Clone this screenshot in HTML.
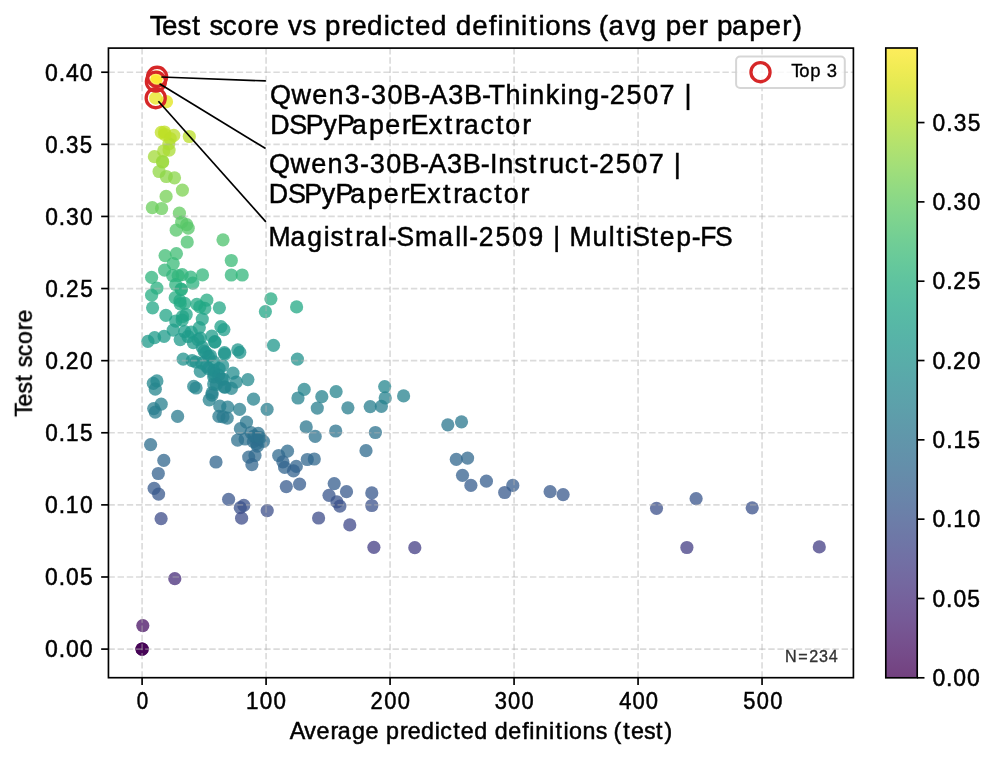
<!DOCTYPE html><html><head><meta charset="utf-8"><title>Test score vs predicted definitions</title><style>
html,body{margin:0;padding:0;background:#fff;}svg{display:block;}text{font-family:"Liberation Sans",sans-serif;will-change:transform;font-kerning:none;font-variant-ligatures:none;}
</style></head><body>
<svg width="996" height="759" viewBox="0 0 996 759">
<rect width="996" height="759" fill="#ffffff"/>
<defs><linearGradient id="cb" x1="0" y1="1" x2="0" y2="0">
<stop offset="0.0000" stop-color="#440154"/>
<stop offset="0.0312" stop-color="#470d60"/>
<stop offset="0.0625" stop-color="#48186a"/>
<stop offset="0.0938" stop-color="#482374"/>
<stop offset="0.1250" stop-color="#472d7b"/>
<stop offset="0.1562" stop-color="#453781"/>
<stop offset="0.1875" stop-color="#424086"/>
<stop offset="0.2188" stop-color="#3e4989"/>
<stop offset="0.2500" stop-color="#3b528b"/>
<stop offset="0.2812" stop-color="#375b8d"/>
<stop offset="0.3125" stop-color="#33638d"/>
<stop offset="0.3438" stop-color="#2f6b8e"/>
<stop offset="0.3750" stop-color="#2c728e"/>
<stop offset="0.4062" stop-color="#297a8e"/>
<stop offset="0.4375" stop-color="#26828e"/>
<stop offset="0.4688" stop-color="#23898e"/>
<stop offset="0.5000" stop-color="#21918c"/>
<stop offset="0.5312" stop-color="#1f988b"/>
<stop offset="0.5625" stop-color="#1fa088"/>
<stop offset="0.5938" stop-color="#22a785"/>
<stop offset="0.6250" stop-color="#28ae80"/>
<stop offset="0.6562" stop-color="#32b67a"/>
<stop offset="0.6875" stop-color="#3fbc73"/>
<stop offset="0.7188" stop-color="#4ec36b"/>
<stop offset="0.7500" stop-color="#5ec962"/>
<stop offset="0.7812" stop-color="#70cf57"/>
<stop offset="0.8125" stop-color="#84d44b"/>
<stop offset="0.8438" stop-color="#98d83e"/>
<stop offset="0.8750" stop-color="#addc30"/>
<stop offset="0.9062" stop-color="#c2df23"/>
<stop offset="0.9375" stop-color="#d8e219"/>
<stop offset="0.9688" stop-color="#ece51b"/>
<stop offset="1.0000" stop-color="#fde725"/>
</linearGradient><clipPath id="axclip"><rect x="108.45" y="48.10" width="744.95" height="629.60"/></clipPath></defs>
<g clip-path="url(#axclip)">
<circle cx="166.5" cy="101.7" r="6.6" fill="#e2e418" fill-opacity="0.75"/>
<circle cx="161.3" cy="132.4" r="6.6" fill="#c0df25" fill-opacity="0.75"/>
<circle cx="164.5" cy="132.0" r="6.6" fill="#c0df25" fill-opacity="0.75"/>
<circle cx="173.8" cy="135.3" r="6.6" fill="#bade28" fill-opacity="0.75"/>
<circle cx="170.2" cy="138.5" r="6.6" fill="#b8de29" fill-opacity="0.75"/>
<circle cx="189.3" cy="136.5" r="6.6" fill="#bade28" fill-opacity="0.75"/>
<circle cx="168.8" cy="143.8" r="6.6" fill="#b2dd2d" fill-opacity="0.75"/>
<circle cx="163.7" cy="150.9" r="6.6" fill="#a8db34" fill-opacity="0.75"/>
<circle cx="169.1" cy="150.1" r="6.6" fill="#aadc32" fill-opacity="0.75"/>
<circle cx="154.4" cy="156.7" r="6.6" fill="#a2da37" fill-opacity="0.75"/>
<circle cx="162.6" cy="161.5" r="6.6" fill="#9dd93b" fill-opacity="0.75"/>
<circle cx="159.1" cy="171.5" r="6.6" fill="#90d743" fill-opacity="0.75"/>
<circle cx="166.3" cy="176.5" r="6.6" fill="#8bd646" fill-opacity="0.75"/>
<circle cx="174.5" cy="177.8" r="6.6" fill="#89d548" fill-opacity="0.75"/>
<circle cx="182.4" cy="190.1" r="6.6" fill="#7cd250" fill-opacity="0.75"/>
<circle cx="166.1" cy="196.4" r="6.6" fill="#75d054" fill-opacity="0.75"/>
<circle cx="152.3" cy="207.7" r="6.6" fill="#69cd5b" fill-opacity="0.75"/>
<circle cx="161.6" cy="208.5" r="6.6" fill="#69cd5b" fill-opacity="0.75"/>
<circle cx="179.4" cy="213.2" r="6.6" fill="#63cb5f" fill-opacity="0.75"/>
<circle cx="181.7" cy="222.2" r="6.6" fill="#5ac864" fill-opacity="0.75"/>
<circle cx="186.7" cy="224.7" r="6.6" fill="#58c765" fill-opacity="0.75"/>
<circle cx="188.2" cy="228.2" r="6.6" fill="#56c667" fill-opacity="0.75"/>
<circle cx="176.2" cy="230.2" r="6.6" fill="#54c568" fill-opacity="0.75"/>
<circle cx="187.2" cy="242.0" r="6.6" fill="#4ac16d" fill-opacity="0.75"/>
<circle cx="223.0" cy="239.8" r="6.6" fill="#4cc26c" fill-opacity="0.75"/>
<circle cx="165.1" cy="255.6" r="6.6" fill="#3fbc73" fill-opacity="0.75"/>
<circle cx="176.4" cy="253.6" r="6.6" fill="#3fbc73" fill-opacity="0.75"/>
<circle cx="173.2" cy="263.6" r="6.6" fill="#38b977" fill-opacity="0.75"/>
<circle cx="164.6" cy="270.1" r="6.6" fill="#34b679" fill-opacity="0.75"/>
<circle cx="151.6" cy="277.3" r="6.6" fill="#2fb47c" fill-opacity="0.75"/>
<circle cx="172.7" cy="275.6" r="6.6" fill="#31b57b" fill-opacity="0.75"/>
<circle cx="178.2" cy="275.6" r="6.6" fill="#31b57b" fill-opacity="0.75"/>
<circle cx="182.2" cy="274.6" r="6.6" fill="#31b57b" fill-opacity="0.75"/>
<circle cx="190.7" cy="277.1" r="6.6" fill="#2fb47c" fill-opacity="0.75"/>
<circle cx="202.5" cy="274.9" r="6.6" fill="#31b57b" fill-opacity="0.75"/>
<circle cx="231.3" cy="260.5" r="6.6" fill="#3aba76" fill-opacity="0.75"/>
<circle cx="231.3" cy="275.0" r="6.6" fill="#31b57b" fill-opacity="0.75"/>
<circle cx="242.2" cy="275.0" r="6.6" fill="#31b57b" fill-opacity="0.75"/>
<circle cx="156.9" cy="288.2" r="6.6" fill="#29af7f" fill-opacity="0.75"/>
<circle cx="151.6" cy="295.2" r="6.6" fill="#26ad81" fill-opacity="0.75"/>
<circle cx="175.7" cy="284.7" r="6.6" fill="#2cb17e" fill-opacity="0.75"/>
<circle cx="181.2" cy="289.2" r="6.6" fill="#28ae80" fill-opacity="0.75"/>
<circle cx="192.8" cy="283.2" r="6.6" fill="#2cb17e" fill-opacity="0.75"/>
<circle cx="175.2" cy="297.7" r="6.6" fill="#25ac82" fill-opacity="0.75"/>
<circle cx="184.7" cy="303.3" r="6.6" fill="#23a983" fill-opacity="0.75"/>
<circle cx="196.8" cy="304.3" r="6.6" fill="#23a983" fill-opacity="0.75"/>
<circle cx="206.8" cy="300.2" r="6.6" fill="#25ab82" fill-opacity="0.75"/>
<circle cx="204.8" cy="308.3" r="6.6" fill="#22a785" fill-opacity="0.75"/>
<circle cx="219.4" cy="307.8" r="6.6" fill="#22a785" fill-opacity="0.75"/>
<circle cx="152.6" cy="307.8" r="6.6" fill="#22a785" fill-opacity="0.75"/>
<circle cx="165.9" cy="315.4" r="6.6" fill="#20a486" fill-opacity="0.75"/>
<circle cx="186.2" cy="314.5" r="6.6" fill="#20a486" fill-opacity="0.75"/>
<circle cx="175.7" cy="321.1" r="6.6" fill="#1fa187" fill-opacity="0.75"/>
<circle cx="182.2" cy="320.1" r="6.6" fill="#1fa287" fill-opacity="0.75"/>
<circle cx="202.3" cy="319.1" r="6.6" fill="#1fa287" fill-opacity="0.75"/>
<circle cx="199.3" cy="327.6" r="6.6" fill="#1f9f88" fill-opacity="0.75"/>
<circle cx="220.9" cy="326.6" r="6.6" fill="#1fa088" fill-opacity="0.75"/>
<circle cx="223.9" cy="329.6" r="6.6" fill="#1f9e89" fill-opacity="0.75"/>
<circle cx="173.2" cy="330.1" r="6.6" fill="#1f9e89" fill-opacity="0.75"/>
<circle cx="184.7" cy="331.6" r="6.6" fill="#1f9e89" fill-opacity="0.75"/>
<circle cx="191.2" cy="332.1" r="6.6" fill="#1e9d89" fill-opacity="0.75"/>
<circle cx="154.6" cy="337.6" r="6.6" fill="#1e9b8a" fill-opacity="0.75"/>
<circle cx="164.1" cy="336.3" r="6.6" fill="#1e9b8a" fill-opacity="0.75"/>
<circle cx="147.9" cy="341.3" r="6.6" fill="#1f998a" fill-opacity="0.75"/>
<circle cx="180.2" cy="339.6" r="6.6" fill="#1f9a8a" fill-opacity="0.75"/>
<circle cx="193.3" cy="342.6" r="6.6" fill="#1f998a" fill-opacity="0.75"/>
<circle cx="200.3" cy="338.1" r="6.6" fill="#1e9b8a" fill-opacity="0.75"/>
<circle cx="211.8" cy="336.1" r="6.6" fill="#1e9c89" fill-opacity="0.75"/>
<circle cx="214.8" cy="342.1" r="6.6" fill="#1f998a" fill-opacity="0.75"/>
<circle cx="202.3" cy="347.2" r="6.6" fill="#1f978b" fill-opacity="0.75"/>
<circle cx="224.4" cy="352.7" r="6.6" fill="#1f948c" fill-opacity="0.75"/>
<circle cx="183.2" cy="359.2" r="6.6" fill="#20928c" fill-opacity="0.75"/>
<circle cx="192.2" cy="360.7" r="6.6" fill="#20928c" fill-opacity="0.75"/>
<circle cx="200.3" cy="371.3" r="6.6" fill="#228d8d" fill-opacity="0.75"/>
<circle cx="237.8" cy="349.9" r="6.6" fill="#1f958b" fill-opacity="0.75"/>
<circle cx="239.8" cy="352.3" r="6.6" fill="#1f948c" fill-opacity="0.75"/>
<circle cx="222.6" cy="365.5" r="6.6" fill="#218f8d" fill-opacity="0.75"/>
<circle cx="233.0" cy="373.2" r="6.6" fill="#228c8d" fill-opacity="0.75"/>
<circle cx="247.9" cy="379.6" r="6.6" fill="#23898e" fill-opacity="0.75"/>
<circle cx="236.2" cy="382.0" r="6.6" fill="#23888e" fill-opacity="0.75"/>
<circle cx="193.7" cy="386.4" r="6.6" fill="#24868e" fill-opacity="0.75"/>
<circle cx="196.1" cy="388.0" r="6.6" fill="#25858e" fill-opacity="0.75"/>
<circle cx="213.7" cy="384.0" r="6.6" fill="#24878e" fill-opacity="0.75"/>
<circle cx="225.0" cy="387.2" r="6.6" fill="#24868e" fill-opacity="0.75"/>
<circle cx="231.4" cy="388.4" r="6.6" fill="#25858e" fill-opacity="0.75"/>
<circle cx="212.1" cy="392.8" r="6.6" fill="#25838e" fill-opacity="0.75"/>
<circle cx="204.1" cy="351.1" r="6.6" fill="#1f958b" fill-opacity="0.75"/>
<circle cx="210.5" cy="355.9" r="6.6" fill="#20938c" fill-opacity="0.75"/>
<circle cx="206.5" cy="366.3" r="6.6" fill="#218f8d" fill-opacity="0.75"/>
<circle cx="213.7" cy="370.3" r="6.6" fill="#228d8d" fill-opacity="0.75"/>
<circle cx="218.6" cy="375.2" r="6.6" fill="#228b8d" fill-opacity="0.75"/>
<circle cx="213.7" cy="376.8" r="6.6" fill="#238a8d" fill-opacity="0.75"/>
<circle cx="223.4" cy="379.2" r="6.6" fill="#23898e" fill-opacity="0.75"/>
<circle cx="270.9" cy="298.8" r="6.6" fill="#25ab82" fill-opacity="0.75"/>
<circle cx="265.4" cy="311.6" r="6.6" fill="#21a585" fill-opacity="0.75"/>
<circle cx="296.6" cy="306.9" r="6.6" fill="#22a884" fill-opacity="0.75"/>
<circle cx="273.5" cy="345.3" r="6.6" fill="#1f978b" fill-opacity="0.75"/>
<circle cx="297.4" cy="359.1" r="6.6" fill="#20928c" fill-opacity="0.75"/>
<circle cx="253.5" cy="399.2" r="6.6" fill="#26818e" fill-opacity="0.75"/>
<circle cx="267.1" cy="409.3" r="6.6" fill="#287d8e" fill-opacity="0.75"/>
<circle cx="304.2" cy="389.4" r="6.6" fill="#25858e" fill-opacity="0.75"/>
<circle cx="298.0" cy="398.0" r="6.6" fill="#26828e" fill-opacity="0.75"/>
<circle cx="321.8" cy="396.7" r="6.6" fill="#26828e" fill-opacity="0.75"/>
<circle cx="336.1" cy="391.7" r="6.6" fill="#25848e" fill-opacity="0.75"/>
<circle cx="317.3" cy="408.1" r="6.6" fill="#287d8e" fill-opacity="0.75"/>
<circle cx="347.9" cy="407.8" r="6.6" fill="#287d8e" fill-opacity="0.75"/>
<circle cx="370.2" cy="406.6" r="6.6" fill="#277e8e" fill-opacity="0.75"/>
<circle cx="381.4" cy="406.3" r="6.6" fill="#277e8e" fill-opacity="0.75"/>
<circle cx="384.7" cy="386.6" r="6.6" fill="#24868e" fill-opacity="0.75"/>
<circle cx="385.2" cy="397.9" r="6.6" fill="#26828e" fill-opacity="0.75"/>
<circle cx="403.6" cy="395.9" r="6.6" fill="#26828e" fill-opacity="0.75"/>
<circle cx="335.7" cy="431.0" r="6.6" fill="#2c738e" fill-opacity="0.75"/>
<circle cx="375.4" cy="432.5" r="6.6" fill="#2c728e" fill-opacity="0.75"/>
<circle cx="447.8" cy="424.8" r="6.6" fill="#2a768e" fill-opacity="0.75"/>
<circle cx="461.5" cy="421.8" r="6.6" fill="#2a778e" fill-opacity="0.75"/>
<circle cx="456.3" cy="459.3" r="6.6" fill="#31678e" fill-opacity="0.75"/>
<circle cx="467.6" cy="458.1" r="6.6" fill="#31688e" fill-opacity="0.75"/>
<circle cx="462.5" cy="475.3" r="6.6" fill="#34608d" fill-opacity="0.75"/>
<circle cx="470.9" cy="485.4" r="6.6" fill="#365c8d" fill-opacity="0.75"/>
<circle cx="486.4" cy="481.2" r="6.6" fill="#355e8d" fill-opacity="0.75"/>
<circle cx="504.7" cy="492.5" r="6.6" fill="#38598c" fill-opacity="0.75"/>
<circle cx="512.8" cy="485.4" r="6.6" fill="#365c8d" fill-opacity="0.75"/>
<circle cx="550.1" cy="491.7" r="6.6" fill="#38598c" fill-opacity="0.75"/>
<circle cx="563.1" cy="494.6" r="6.6" fill="#38588c" fill-opacity="0.75"/>
<circle cx="656.5" cy="508.3" r="6.6" fill="#3c508b" fill-opacity="0.75"/>
<circle cx="696.1" cy="498.6" r="6.6" fill="#39558c" fill-opacity="0.75"/>
<circle cx="752.2" cy="507.8" r="6.6" fill="#3b518b" fill-opacity="0.75"/>
<circle cx="686.9" cy="547.5" r="6.6" fill="#433d84" fill-opacity="0.75"/>
<circle cx="819.3" cy="546.9" r="6.6" fill="#433d84" fill-opacity="0.75"/>
<circle cx="366.0" cy="450.7" r="6.6" fill="#2f6b8e" fill-opacity="0.75"/>
<circle cx="334.2" cy="483.6" r="6.6" fill="#365d8d" fill-opacity="0.75"/>
<circle cx="346.5" cy="491.7" r="6.6" fill="#38598c" fill-opacity="0.75"/>
<circle cx="329.0" cy="495.3" r="6.6" fill="#39568c" fill-opacity="0.75"/>
<circle cx="336.9" cy="501.9" r="6.6" fill="#3a538b" fill-opacity="0.75"/>
<circle cx="339.9" cy="506.1" r="6.6" fill="#3b518b" fill-opacity="0.75"/>
<circle cx="371.8" cy="492.9" r="6.6" fill="#38588c" fill-opacity="0.75"/>
<circle cx="371.8" cy="505.5" r="6.6" fill="#3b528b" fill-opacity="0.75"/>
<circle cx="246.5" cy="422.1" r="6.6" fill="#2a778e" fill-opacity="0.75"/>
<circle cx="306.2" cy="426.9" r="6.6" fill="#2b758e" fill-opacity="0.75"/>
<circle cx="315.2" cy="436.4" r="6.6" fill="#2c718e" fill-opacity="0.75"/>
<circle cx="287.5" cy="451.2" r="6.6" fill="#2f6b8e" fill-opacity="0.75"/>
<circle cx="278.7" cy="455.5" r="6.6" fill="#30698e" fill-opacity="0.75"/>
<circle cx="282.9" cy="461.8" r="6.6" fill="#31668e" fill-opacity="0.75"/>
<circle cx="284.6" cy="467.4" r="6.6" fill="#32648e" fill-opacity="0.75"/>
<circle cx="296.3" cy="466.4" r="6.6" fill="#32648e" fill-opacity="0.75"/>
<circle cx="307.3" cy="459.5" r="6.6" fill="#31678e" fill-opacity="0.75"/>
<circle cx="314.3" cy="459.0" r="6.6" fill="#31688e" fill-opacity="0.75"/>
<circle cx="177.6" cy="416.4" r="6.6" fill="#297a8e" fill-opacity="0.75"/>
<circle cx="212.0" cy="395.1" r="6.6" fill="#26828e" fill-opacity="0.75"/>
<circle cx="209.2" cy="399.8" r="6.6" fill="#26818e" fill-opacity="0.75"/>
<circle cx="219.8" cy="406.2" r="6.6" fill="#277e8e" fill-opacity="0.75"/>
<circle cx="227.7" cy="407.1" r="6.6" fill="#277e8e" fill-opacity="0.75"/>
<circle cx="239.6" cy="409.4" r="6.6" fill="#287d8e" fill-opacity="0.75"/>
<circle cx="218.9" cy="416.4" r="6.6" fill="#297a8e" fill-opacity="0.75"/>
<circle cx="223.0" cy="416.8" r="6.6" fill="#29798e" fill-opacity="0.75"/>
<circle cx="227.2" cy="418.2" r="6.6" fill="#29798e" fill-opacity="0.75"/>
<circle cx="240.4" cy="428.7" r="6.6" fill="#2b748e" fill-opacity="0.75"/>
<circle cx="237.6" cy="440.1" r="6.6" fill="#2d708e" fill-opacity="0.75"/>
<circle cx="245.1" cy="439.0" r="6.6" fill="#2d708e" fill-opacity="0.75"/>
<circle cx="251.1" cy="432.6" r="6.6" fill="#2c728e" fill-opacity="0.75"/>
<circle cx="258.2" cy="433.4" r="6.6" fill="#2c728e" fill-opacity="0.75"/>
<circle cx="257.4" cy="439.7" r="6.6" fill="#2d708e" fill-opacity="0.75"/>
<circle cx="263.5" cy="441.3" r="6.6" fill="#2e6f8e" fill-opacity="0.75"/>
<circle cx="253.4" cy="441.7" r="6.6" fill="#2e6f8e" fill-opacity="0.75"/>
<circle cx="256.6" cy="443.7" r="6.6" fill="#2e6e8e" fill-opacity="0.75"/>
<circle cx="257.4" cy="446.1" r="6.6" fill="#2e6d8e" fill-opacity="0.75"/>
<circle cx="248.7" cy="457.1" r="6.6" fill="#31688e" fill-opacity="0.75"/>
<circle cx="255.0" cy="455.5" r="6.6" fill="#30698e" fill-opacity="0.75"/>
<circle cx="251.9" cy="464.6" r="6.6" fill="#32658e" fill-opacity="0.75"/>
<circle cx="156.9" cy="380.9" r="6.6" fill="#23888e" fill-opacity="0.75"/>
<circle cx="153.3" cy="383.3" r="6.6" fill="#24878e" fill-opacity="0.75"/>
<circle cx="155.3" cy="389.2" r="6.6" fill="#25858e" fill-opacity="0.75"/>
<circle cx="161.2" cy="404.2" r="6.6" fill="#277f8e" fill-opacity="0.75"/>
<circle cx="153.7" cy="408.6" r="6.6" fill="#287d8e" fill-opacity="0.75"/>
<circle cx="155.3" cy="412.1" r="6.6" fill="#287c8e" fill-opacity="0.75"/>
<circle cx="150.6" cy="444.6" r="6.6" fill="#2e6e8e" fill-opacity="0.75"/>
<circle cx="163.8" cy="460.4" r="6.6" fill="#31678e" fill-opacity="0.75"/>
<circle cx="216.0" cy="462.0" r="6.6" fill="#31668e" fill-opacity="0.75"/>
<circle cx="158.3" cy="473.5" r="6.6" fill="#34618d" fill-opacity="0.75"/>
<circle cx="154.1" cy="488.3" r="6.6" fill="#375a8c" fill-opacity="0.75"/>
<circle cx="158.6" cy="494.1" r="6.6" fill="#38588c" fill-opacity="0.75"/>
<circle cx="161.1" cy="518.7" r="6.6" fill="#3e4c8a" fill-opacity="0.75"/>
<circle cx="228.6" cy="499.3" r="6.6" fill="#39558c" fill-opacity="0.75"/>
<circle cx="243.8" cy="505.3" r="6.6" fill="#3b528b" fill-opacity="0.75"/>
<circle cx="240.3" cy="507.7" r="6.6" fill="#3b518b" fill-opacity="0.75"/>
<circle cx="241.6" cy="518.2" r="6.6" fill="#3e4c8a" fill-opacity="0.75"/>
<circle cx="267.2" cy="510.7" r="6.6" fill="#3c4f8a" fill-opacity="0.75"/>
<circle cx="286.3" cy="486.6" r="6.6" fill="#375b8d" fill-opacity="0.75"/>
<circle cx="299.6" cy="484.1" r="6.6" fill="#365c8d" fill-opacity="0.75"/>
<circle cx="318.6" cy="518.0" r="6.6" fill="#3e4c8a" fill-opacity="0.75"/>
<circle cx="349.8" cy="524.9" r="6.6" fill="#3f4889" fill-opacity="0.75"/>
<circle cx="373.9" cy="547.3" r="6.6" fill="#433d84" fill-opacity="0.75"/>
<circle cx="414.8" cy="547.7" r="6.6" fill="#433d84" fill-opacity="0.75"/>
<circle cx="174.8" cy="578.7" r="6.6" fill="#472c7a" fill-opacity="0.75"/>
<circle cx="142.8" cy="625.6" r="6.6" fill="#471063" fill-opacity="0.75"/>
<circle cx="142.1" cy="649.1" r="6.6" fill="#440154" fill-opacity="0.75"/>
<circle cx="142.1" cy="649.1" r="6.6" fill="#440154" fill-opacity="0.75"/>
<circle cx="142.1" cy="649.1" r="6.6" fill="#440154" fill-opacity="0.75"/>
<circle cx="181.4" cy="289.5" r="6.6" fill="#28ae80" fill-opacity="0.75"/>
<circle cx="179.9" cy="300.7" r="6.6" fill="#24aa83" fill-opacity="0.75"/>
<circle cx="180.2" cy="303.8" r="6.6" fill="#23a983" fill-opacity="0.75"/>
<circle cx="199.8" cy="306.8" r="6.6" fill="#22a884" fill-opacity="0.75"/>
<circle cx="198.0" cy="339.5" r="6.6" fill="#1f9a8a" fill-opacity="0.75"/>
<circle cx="205.9" cy="352.7" r="6.6" fill="#1f948c" fill-opacity="0.75"/>
<circle cx="208.5" cy="356.7" r="6.6" fill="#20928c" fill-opacity="0.75"/>
<circle cx="213.8" cy="361.9" r="6.6" fill="#21918c" fill-opacity="0.75"/>
<circle cx="219.1" cy="368.5" r="6.6" fill="#218e8d" fill-opacity="0.75"/>
<circle cx="213.8" cy="373.8" r="6.6" fill="#228c8d" fill-opacity="0.75"/>
<circle cx="221.7" cy="379.1" r="6.6" fill="#23898e" fill-opacity="0.75"/>
<circle cx="216.4" cy="384.3" r="6.6" fill="#24878e" fill-opacity="0.75"/>
<circle cx="224.3" cy="387.0" r="6.6" fill="#24868e" fill-opacity="0.75"/>
<circle cx="208.5" cy="368.5" r="6.6" fill="#218e8d" fill-opacity="0.75"/>
<circle cx="201.9" cy="363.2" r="6.6" fill="#21908d" fill-opacity="0.75"/>
<circle cx="224.8" cy="354.0" r="6.6" fill="#1f948c" fill-opacity="0.75"/>
<circle cx="196.0" cy="362.0" r="6.6" fill="#21918c" fill-opacity="0.75"/>
<circle cx="182.5" cy="316.5" r="6.6" fill="#20a386" fill-opacity="0.75"/>
<circle cx="254.0" cy="436.0" r="6.6" fill="#2c718e" fill-opacity="0.75"/>
<circle cx="260.0" cy="437.5" r="6.6" fill="#2d718e" fill-opacity="0.75"/>
<circle cx="293.5" cy="470.9" r="6.6" fill="#33628d" fill-opacity="0.75"/>
<circle cx="162.6" cy="162.0" r="6.6" fill="#9bd93c" fill-opacity="0.75"/>
<circle cx="214.9" cy="341.7" r="6.6" fill="#1f998a" fill-opacity="0.75"/>
<circle cx="188.0" cy="336.5" r="6.6" fill="#1e9b8a" fill-opacity="0.75"/>
<circle cx="164.9" cy="134.5" r="6.6" fill="#bddf26" fill-opacity="0.75"/>
<circle cx="155.7" cy="98.2" r="6.6" fill="#e7e419" fill-opacity="0.75"/>
<circle cx="155.9" cy="81.6" r="6.6" fill="#f8e621" fill-opacity="0.75"/>
<circle cx="157.1" cy="76.8" r="6.6" fill="#fde725" fill-opacity="0.75"/>
</g>
<g stroke="#b0b0b0" stroke-opacity="0.45" stroke-width="1.67" stroke-dasharray="6.398 2.766" fill="none">
<line x1="142.10" y1="677.7" x2="142.10" y2="48.1"/>
<line x1="266.09" y1="677.7" x2="266.09" y2="48.1"/>
<line x1="390.08" y1="677.7" x2="390.08" y2="48.1"/>
<line x1="514.07" y1="677.7" x2="514.07" y2="48.1"/>
<line x1="638.06" y1="677.7" x2="638.06" y2="48.1"/>
<line x1="762.05" y1="677.7" x2="762.05" y2="48.1"/>
<line x1="108.45" y1="649.10" x2="853.4" y2="649.10"/>
<line x1="108.45" y1="576.99" x2="853.4" y2="576.99"/>
<line x1="108.45" y1="504.88" x2="853.4" y2="504.88"/>
<line x1="108.45" y1="432.77" x2="853.4" y2="432.77"/>
<line x1="108.45" y1="360.66" x2="853.4" y2="360.66"/>
<line x1="108.45" y1="288.55" x2="853.4" y2="288.55"/>
<line x1="108.45" y1="216.44" x2="853.4" y2="216.44"/>
<line x1="108.45" y1="144.33" x2="853.4" y2="144.33"/>
<line x1="108.45" y1="72.22" x2="853.4" y2="72.22"/>
</g>
<g fill="none" stroke="#d62728" stroke-width="3.3">
<circle cx="157.1" cy="76.8" r="9.55"/>
<circle cx="155.9" cy="81.6" r="9.55"/>
<circle cx="155.7" cy="98.2" r="9.55"/>
</g>
<g stroke="#000" stroke-width="1.7" fill="none">
<line x1="265.85" y1="80.94" x2="161.3" y2="77.0"/>
<line x1="265.6" y1="148.5" x2="159.5" y2="83.8"/>
<line x1="265.9" y1="221.9" x2="158.4" y2="101.2"/>
</g>
<rect x="108.45" y="48.1" width="744.95" height="629.60" fill="none" stroke="#000" stroke-width="1.67"/>
<g stroke="#000" stroke-width="1.67">
<line x1="142.10" y1="677.7" x2="142.10" y2="685.00"/>
<line x1="266.09" y1="677.7" x2="266.09" y2="685.00"/>
<line x1="390.08" y1="677.7" x2="390.08" y2="685.00"/>
<line x1="514.07" y1="677.7" x2="514.07" y2="685.00"/>
<line x1="638.06" y1="677.7" x2="638.06" y2="685.00"/>
<line x1="762.05" y1="677.7" x2="762.05" y2="685.00"/>
<line x1="101.15" y1="649.10" x2="108.45" y2="649.10"/>
<line x1="101.15" y1="576.99" x2="108.45" y2="576.99"/>
<line x1="101.15" y1="504.88" x2="108.45" y2="504.88"/>
<line x1="101.15" y1="432.77" x2="108.45" y2="432.77"/>
<line x1="101.15" y1="360.66" x2="108.45" y2="360.66"/>
<line x1="101.15" y1="288.55" x2="108.45" y2="288.55"/>
<line x1="101.15" y1="216.44" x2="108.45" y2="216.44"/>
<line x1="101.15" y1="144.33" x2="108.45" y2="144.33"/>
<line x1="101.15" y1="72.22" x2="108.45" y2="72.22"/>
<line x1="917.2" y1="677.80" x2="924.50" y2="677.80"/>
<line x1="917.2" y1="598.48" x2="924.50" y2="598.48"/>
<line x1="917.2" y1="519.16" x2="924.50" y2="519.16"/>
<line x1="917.2" y1="439.84" x2="924.50" y2="439.84"/>
<line x1="917.2" y1="360.52" x2="924.50" y2="360.52"/>
<line x1="917.2" y1="281.20" x2="924.50" y2="281.20"/>
<line x1="917.2" y1="201.88" x2="924.50" y2="201.88"/>
<line x1="917.2" y1="122.56" x2="924.50" y2="122.56"/>
</g>
<rect x="885.8" y="48.0" width="31.40" height="629.80" fill="url(#cb)" fill-opacity="0.75" stroke="#000" stroke-width="1.67"/>
<rect x="736.1" y="56.5" width="108.7" height="31.4" rx="4" ry="4" fill="#ffffff" fill-opacity="0.8" stroke="#cccccc" stroke-opacity="0.8" stroke-width="2"/>
<circle cx="760.5" cy="72.2" r="9.55" fill="none" stroke="#d62728" stroke-width="3.3"/>
<text transform="translate(150.13 34.90) scale(0.9989 1)" x="-0.49 11.81 27.45 42.12 42.12 59.37 72.76 87.36 104.20 113.39 113.39 138.01 152.63 152.63 175.05 192.04 201.23 217.24 233.88 240.42 255.97 265.28 281.29 281.29 305.99 322.40 339.09 347.72 354.94 371.36 379.19 388.73 395.61 411.82 427.70 427.70 449.18 458.80 476.19 491.17 491.17 516.18 532.28 549.13 549.13 567.50 582.53 599.85 615.96 632.81 643.41" y="0" font-size="27.8" fill="#000" stroke="#000" stroke-width="0.5">Test score vs predicted definitions (avg per paper)</text>
<text transform="translate(290.31 738.80) scale(0.9944 1)" x="-0.57 13.93 26.39 40.47 47.72 61.93 75.64 75.64 96.14 110.35 118.01 131.38 145.31 150.74 163.75 171.50 184.87 184.87 205.50 219.20 233.16 240.37 246.37 260.12 266.65 274.62 280.34 293.87 307.14 307.14 325.09 334.74 342.50 355.57 367.84 376.32" y="0" font-size="23.4" fill="#000" stroke="#000" stroke-width="0.5">Average predicted definitions (test)</text>
<text transform="translate(31.90 416.29) rotate(-90) scale(0.9830 1)" x="-0.42 9.92 23.07 35.41 35.41 49.90 61.15 73.43 87.59 95.31" y="0" font-size="23.4" fill="#000" stroke="#000" stroke-width="0.5">Test score</text>
<text transform="translate(45.98 657.40) scale(0.9847 1)" x="-0.92 12.90 20.22 34.32" y="0" font-size="23.4" fill="#000" stroke="#000" stroke-width="0.5">0.00</text>
<text transform="translate(45.88 585.29) scale(0.9770 1)" x="-0.82 13.19 20.70 34.96" y="0" font-size="23.4" fill="#000" stroke="#000" stroke-width="0.5">0.05</text>
<text transform="translate(45.79 513.18) scale(0.9800 1)" x="-0.85 13.11 20.46 34.86" y="0" font-size="23.4" fill="#000" stroke="#000" stroke-width="0.5">0.10</text>
<text transform="translate(45.85 441.07) scale(0.9631 1)" x="-0.74 13.42 20.96 35.54" y="0" font-size="23.4" fill="#000" stroke="#000" stroke-width="0.5">0.15</text>
<text transform="translate(45.97 368.96) scale(0.9765 1)" x="-0.86 13.08 20.22 34.77" y="0" font-size="23.4" fill="#000" stroke="#000" stroke-width="0.5">0.20</text>
<text transform="translate(45.91 296.85) scale(0.9672 1)" x="-0.76 13.38 20.71 35.43" y="0" font-size="23.4" fill="#000" stroke="#000" stroke-width="0.5">0.25</text>
<text transform="translate(45.99 224.74) scale(0.9754 1)" x="-0.85 13.10 20.58 34.83" y="0" font-size="23.4" fill="#000" stroke="#000" stroke-width="0.5">0.30</text>
<text transform="translate(45.93 152.63) scale(0.9517 1)" x="-0.75 13.40 21.07 35.49" y="0" font-size="23.4" fill="#000" stroke="#000" stroke-width="0.5">0.35</text>
<text transform="translate(45.98 80.52) scale(0.9847 1)" x="-0.92 12.90 20.22 34.32" y="0" font-size="23.4" fill="#000" stroke="#000" stroke-width="0.5">0.40</text>
<text transform="translate(137.50 709.30) scale(0.8789 1)" x="-0.91" y="0" font-size="23.4" fill="#000" stroke="#000" stroke-width="0.5">0</text>
<text transform="translate(247.79 709.30) scale(0.9582 1)" x="-1.94 12.50 26.82" y="0" font-size="23.4" fill="#000" stroke="#000" stroke-width="0.5">100</text>
<text transform="translate(371.81 709.30) scale(0.9392 1)" x="-1.31 13.28 27.57" y="0" font-size="23.4" fill="#000" stroke="#000" stroke-width="0.5">200</text>
<text transform="translate(495.73 709.30) scale(0.9367 1)" x="-1.04 13.24 27.55" y="0" font-size="23.4" fill="#000" stroke="#000" stroke-width="0.5">300</text>
<text transform="translate(619.77 709.30) scale(0.9413 1)" x="-0.54 13.59 27.71" y="0" font-size="23.4" fill="#000" stroke="#000" stroke-width="0.5">400</text>
<text transform="translate(744.31 709.30) scale(0.9342 1)" x="-1.15 13.33 27.72" y="0" font-size="23.4" fill="#000" stroke="#000" stroke-width="0.5">500</text>
<text transform="translate(933.36 686.20) scale(0.9823 1)" x="-0.92 12.90 20.22 34.32" y="0" font-size="23.4" fill="#000" stroke="#000" stroke-width="0.5">0.00</text>
<text transform="translate(933.26 606.84) scale(0.9746 1)" x="-0.82 13.19 20.70 34.96" y="0" font-size="23.4" fill="#000" stroke="#000" stroke-width="0.5">0.05</text>
<text transform="translate(933.26 527.48) scale(0.9813 1)" x="-0.85 13.11 20.46 34.86" y="0" font-size="23.4" fill="#000" stroke="#000" stroke-width="0.5">0.10</text>
<text transform="translate(933.18 448.13) scale(0.9659 1)" x="-0.74 13.42 20.96 35.54" y="0" font-size="23.4" fill="#000" stroke="#000" stroke-width="0.5">0.15</text>
<text transform="translate(933.25 368.77) scale(0.9823 1)" x="-0.86 13.08 20.22 34.77" y="0" font-size="23.4" fill="#000" stroke="#000" stroke-width="0.5">0.20</text>
<text transform="translate(933.18 289.41) scale(0.9746 1)" x="-0.76 13.38 20.71 35.43" y="0" font-size="23.4" fill="#000" stroke="#000" stroke-width="0.5">0.25</text>
<text transform="translate(933.24 210.05) scale(0.9815 1)" x="-0.85 13.10 20.58 34.83" y="0" font-size="23.4" fill="#000" stroke="#000" stroke-width="0.5">0.30</text>
<text transform="translate(933.17 130.70) scale(0.9733 1)" x="-0.75 13.40 21.07 35.49" y="0" font-size="23.4" fill="#000" stroke="#000" stroke-width="0.5">0.35</text>
<text transform="translate(271.60 103.50) scale(0.9704 1)" x="-1.78 20.45 41.99 58.70 75.66 92.07 102.33 119.32 135.43 154.12 162.84 182.08 198.16 216.85 223.55 240.96 257.79 265.39 282.55 297.67 305.27 322.01 338.60 348.47 365.74 382.87 399.84 399.84 425.54" y="0" font-size="27.8" fill="#000" stroke="#000" stroke-width="0.5">Qwen3-30B-A3B-Thinking-2507 |</text>
<text transform="translate(272.37 133.70) scale(0.9664 1)" x="-2.25 17.56 34.57 52.55 66.81 82.07 100.08 116.82 134.25 143.06 161.91 178.27 188.93 198.10 215.26 231.30 241.05 258.48" y="0" font-size="27.8" fill="#000" stroke="#000" stroke-width="0.5">DSPyPaperExtractor</text>
<text transform="translate(270.68 173.40) scale(0.9741 1)" x="-1.83 20.29 41.73 58.36 75.23 91.57 101.76 118.66 134.68 153.29 161.95 181.09 197.08 215.69 225.18 233.73 250.01 264.99 275.49 285.72 301.99 317.86 327.18 336.99 354.17 371.21 388.09 388.09 413.67" y="0" font-size="27.8" fill="#000" stroke="#000" stroke-width="0.5">Qwen3-30B-A3B-Instruct-2507 |</text>
<text transform="translate(271.00 203.10) scale(0.9651 1)" x="-2.25 17.56 34.57 52.55 66.81 82.07 100.08 116.82 134.25 143.06 161.91 178.27 188.93 198.10 215.26 231.30 241.05 258.48" y="0" font-size="27.8" fill="#000" stroke="#000" stroke-width="0.5">DSPyPaperExtractor</text>
<text transform="translate(270.99 245.60) scale(0.9530 1)" x="-2.52 20.36 38.15 55.38 62.54 77.78 88.53 97.79 115.54 122.68 131.71 151.19 175.51 193.26 200.81 207.95 218.02 235.57 252.96 270.16 270.16 296.23 296.23 313.20 337.32 354.40 362.66 372.62 378.97 398.11 408.05 425.16 441.61 450.43 465.79" y="0" font-size="27.8" fill="#000" stroke="#000" stroke-width="0.5">Magistral-Small-2509 | MultiStep-FS</text>
<text transform="translate(791.53 76.70) scale(1.0239 1)" x="-0.28 7.67 18.31 18.31 34.35" y="0" font-size="18.0" fill="#000" stroke="#000" stroke-width="0.35">Top 3</text>
<text transform="translate(786.74 661.75) scale(1.0083 1)" x="-1.66 11.31 22.35 32.08 41.58" y="0" font-size="16.0" fill="#333333" stroke="#333333" stroke-width="0.35">N=234</text>
</svg></body></html>
